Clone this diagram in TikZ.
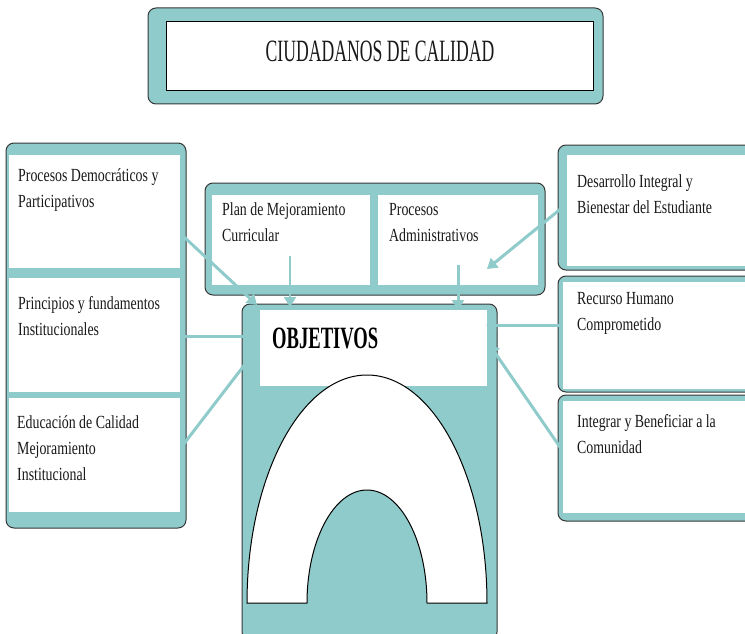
\documentclass[tikz,border=0pt]{standalone}
\usepackage{fontspec}
\setmainfont{Liberation Serif}
\newfontfamily\titlefont[FakeStretch=0.57]{Liberation Serif}
\newfontfamily\headfont[FakeStretch=0.6]{Liberation Serif}
\newfontfamily\bodyfont[FakeStretch=0.75]{Liberation Serif}
\usetikzlibrary{arrows.meta}
\definecolor{band}{RGB}{143,203,203}
\definecolor{edge}{RGB}{55,55,55}

\begin{document}
\begin{tikzpicture}[x=1pt,y=-1pt,
  panel/.style={fill=band, draw=edge, line width=1pt, rounded corners=8pt},
  cell/.style={fill=white},
  % base anchor of a multi-line label sits on its last line
  label/.style={anchor=base west, align=left, inner sep=0pt, text=black!90,
    font=\bodyfont\fontsize{18.5}{26}\selectfont},
  link/.style={draw=band, line width=3pt, -{Triangle[length=10pt,width=12pt]}},
]
\useasboundingbox (0,0) rectangle (745,634);

% title banner
\draw[panel] (148,8) rectangle (603,104);
\draw[cell, draw=black, line width=1pt] (166,22) rectangle (593,91);

% left column of three panels
\draw[panel] (6,143) rectangle (186,528);
\fill[cell] (9,155) rectangle (180,268);
\fill[cell] (9,278) rectangle (180,392);
\fill[cell] (9,398) rectangle (180,512);

% right column of three panels
\draw[panel] (558,145) rectangle (760,270);
\fill[cell] (567,155) rectangle (760,266);
\draw[panel] (558,276) rectangle (760,392);
\fill[cell] (563,282) rectangle (760,389);
\draw[panel] (558,395) rectangle (760,521);
\fill[cell] (563,401) rectangle (760,513);

% middle panel with two cells
\draw[panel] (205,183) rectangle (545,295);
\fill[cell] (212,195) rectangle (370,285);
\fill[cell] (378,195) rectangle (538,285);

% objectives panel with arch
\draw[panel] (242,304) rectangle (497,640);
\fill[cell] (260,310) rectangle (487,386);
\draw[fill=white, draw=black, line width=1pt]
  (247,603) arc[start angle=180, end angle=360, x radius=120, y radius=228]
  -- (427,603) arc[start angle=0, end angle=-180, x radius=60, y radius=113]
  -- cycle;

% connector end points
\coordinate (l1) at (183,236);
\coordinate (l2) at (183,336);
\coordinate (l3) at (183,445);
\coordinate (m1) at (290,256);
\coordinate (m2) at (458,265);
\coordinate (r1) at (563,207);
\coordinate (r2) at (560,325);
\coordinate (r3) at (562,450);
\coordinate (t1) at (257,305);
\coordinate (t2) at (260,336);
\coordinate (t3) at (259,346);
\coordinate (t4) at (290,307);
\coordinate (t5) at (458,310);
\coordinate (t6) at (487,269);
\coordinate (t7) at (486,325);
\coordinate (t8) at (489,344);

\draw[link] (l1) -- (t1);
\draw[link] (l2) -- (t2);
\draw[link] (l3) -- (t3);
\draw[link, line width=2pt] (m1) -- (t4);
\draw[link] (m2) -- (t5);
\draw[link] (r1) -- (t6);
\draw[link] (r2) -- (t7);
\draw[link] (r3) -- (t8);

% texts
\node[anchor=base, inner sep=0pt, text=black!90,
  font=\titlefont\fontsize{31}{31}\selectfont] (title) at (380,62) {CIUDADANOS DE CALIDAD};
\node[anchor=base west, inner sep=0pt, text=black,
  font=\headfont\bfseries\fontsize{31}{31}\selectfont] (obj) at (272,348) {OBJETIVOS};

\node[label] (left1) at (18,207) {Procesos Democráticos y\\Participativos};
\node[label] (left2) at (18,335) {Principios y fundamentos\\Institucionales};
\node[label] (left3) at (17,480) {Educación de Calidad\\Mejoramiento\\Institucional};
\node[label] (mid1) at (222,241) {Plan de Mejoramiento\\Curricular};
\node[label] (mid2) at (389,241) {Procesos\\Administrativos};
\node[label] (right1) at (577,213) {Desarrollo Integral y\\Bienestar del Estudiante};
\node[label] (right2) at (577,330) {Recurso Humano\\Comprometido};
\node[label] (right3) at (577,453) {Integrar y Beneficiar a la\\Comunidad};
\end{tikzpicture}
\end{document}
